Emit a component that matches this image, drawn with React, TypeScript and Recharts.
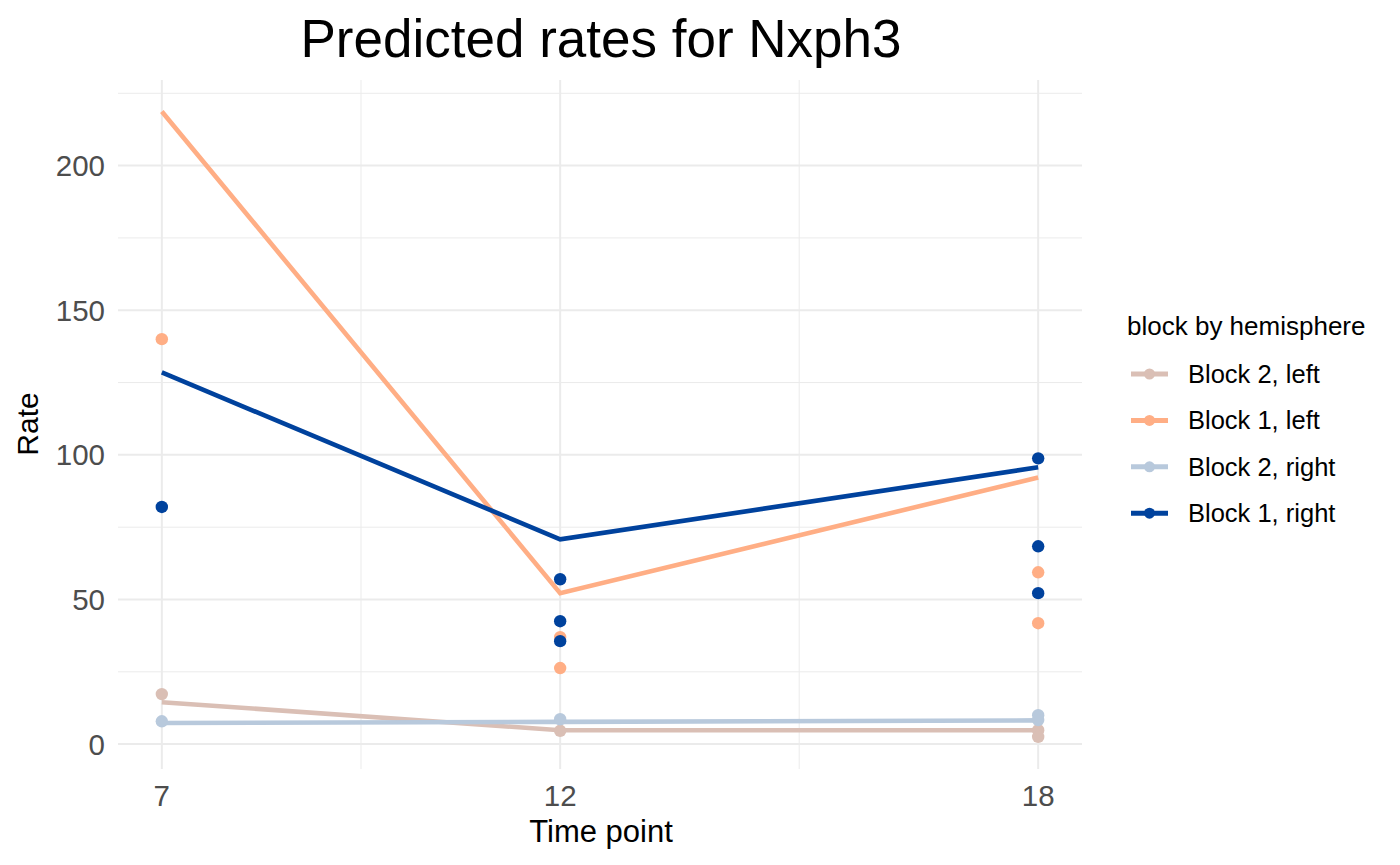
import { ComposedChart, Line, Scatter, XAxis, YAxis, CartesianGrid } from 'recharts'

// fitted rates per time point
const TIME_POINTS = [7, 12, 18]
const FIT_B2_LEFT = [14.5, 4.8, 4.8]
const FIT_B1_LEFT = [218.7, 52.2, 92.2]
const FIT_B2_RIGHT = [7.3, 7.7, 8.2]
const FIT_B1_RIGHT = [128.5, 70.8, 95.7]

// observed points: [time, rate]
const OBS_B2_LEFT = [[7, 17.3], [12, 4.6], [18, 4.8], [18, 2.5]]
const OBS_B1_LEFT = [[7, 140], [12, 37], [12, 26.3], [18, 59.4], [18, 41.8]]
const OBS_B2_RIGHT = [[7, 7.9], [12, 8.6], [18, 10], [18, 8.3]]
const OBS_B1_RIGHT = [[7, 82], [12, 57], [12, 42.5], [12, 35.6], [18, 98.8], [18, 68.4], [18, 52.2]]

const Y_TICKS = [0, 50, 100, 150, 200]
const Y_MINOR = [25, 75, 125, 175, 225]
const X_MINOR = [9.5, 15]

const LABELS = {
	TITLE: 'Predicted rates for Nxph3',
	X: 'Time point',
	Y: 'Rate',
	LEGEND: 'block by hemisphere',
}

const SERIES = [
	{ name: 'Block 2, left', color: '#dabfb5', fit: FIT_B2_LEFT, obs: OBS_B2_LEFT },
	{ name: 'Block 1, left', color: '#ffae85', fit: FIT_B1_LEFT, obs: OBS_B1_LEFT },
	{ name: 'Block 2, right', color: '#b8c9dc', fit: FIT_B2_RIGHT, obs: OBS_B2_RIGHT },
	{ name: 'Block 1, right', color: '#00429d', fit: FIT_B1_RIGHT, obs: OBS_B1_RIGHT },
]

const FONT = '"Liberation Sans", Arial, sans-serif'
const GRID = '#ebebeb'

export default function App() {
	const series = SERIES.map((s) => ({
		...s,
		fitData: TIME_POINTS.map((x, i) => ({ x, y: s.fit[i] })),
		obsData: s.obs.map(([x, y]) => ({ x, y })),
	}))

	return (
		<div style={{ position: 'absolute', left: 0, top: 0, width: 1400, height: 865, background: '#fff', fontFamily: FONT }}>
			<ComposedChart width={1400} height={865} margin={{ top: 80, right: 318, bottom: 0, left: 0 }}>
				<CartesianGrid horizontalValues={Y_MINOR} verticalValues={X_MINOR} stroke={GRID} strokeWidth={1} />
				<CartesianGrid horizontalValues={Y_TICKS} verticalValues={TIME_POINTS} stroke={GRID} strokeWidth={2} />
				<XAxis
					type="number"
					dataKey="x"
					domain={[6.45, 18.55]}
					ticks={TIME_POINTS}
					allowDataOverflow
					height={96}
					tickLine={false}
					axisLine={false}
					tickSize={0}
					tickMargin={16}
					tick={{ fontSize: 29.5, fill: '#4d4d4d', fontFamily: FONT }}
				/>
				<YAxis
					type="number"
					dataKey="y"
					domain={[-8.6, 229.6]}
					ticks={Y_TICKS}
					allowDataOverflow
					width={118}
					tickLine={false}
					axisLine={false}
					tickSize={0}
					tickMargin={13}
					tick={{ fontSize: 29.5, fill: '#4d4d4d', fontFamily: FONT }}
				/>
				{series.map((s) => (
					<Line
						key={`line-${s.name}`}
						data={s.fitData}
						dataKey="y"
						type="linear"
						stroke={s.color}
						strokeWidth={4.6}
						dot={false}
						activeDot={false}
						isAnimationActive={false}
					/>
				))}
				{series.map((s) => (
					<Scatter
						key={`pts-${s.name}`}
						data={s.obsData}
						dataKey="y"
						fill={s.color}
						isAnimationActive={false}
						shape={(p: any) => <circle cx={p.cx} cy={p.cy} r={6.2} fill={s.color} />}
					/>
				))}
			</ComposedChart>

			<svg width={1400} height={865} style={{ position: 'absolute', left: 0, top: 0, pointerEvents: 'none' }}>
				<text x={601} y={57} textAnchor="middle" fontSize={53} fontFamily={FONT} fill="#000">
					{LABELS.TITLE}
				</text>
				<text x={601} y={842} textAnchor="middle" fontSize={31} fontFamily={FONT} fill="#000">
					{LABELS.X}
				</text>
				<text x={38} y={424} textAnchor="middle" fontSize={30} fontFamily={FONT} fill="#000" transform="rotate(-90 38 424)">
					{LABELS.Y}
				</text>

				{/* legend */}
				<text x={1127} y={335} fontSize={26} fontFamily={FONT} fill="#000">
					{LABELS.LEGEND}
				</text>
				{SERIES.map((s, i) => {
					const cy = 374 + i * 46.4
					return (
						<g key={s.name}>
							<line x1={1131} x2={1168} y1={cy} y2={cy} stroke={s.color} strokeWidth={5} />
							<circle cx={1149.5} cy={cy} r={5.5} fill={s.color} />
							<text x={1188} y={cy + 9} fontSize={25.5} fontFamily={FONT} fill="#000">
								{s.name}
							</text>
						</g>
					)
				})}
			</svg>
		</div>
	)
}
